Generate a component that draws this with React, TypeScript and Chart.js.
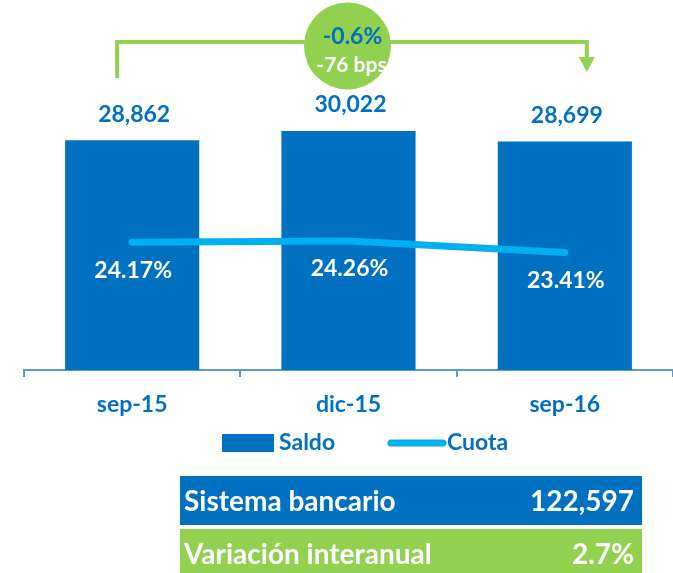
import React, { useEffect, useRef } from "react";
import { Chart, registerables } from "chart.js";

Chart.register(...registerables);

const categories = ["sep-15", "dic-15", "sep-16"];
const saldo = [28862, 30022, 28699];
const cuota = [24.17, 24.26, 23.41];
const seriesNames = ["Saldo", "Cuota"];
const changePct = "-0.6%";
const changeBps = "-76 bps";
const summaryLabels = ["Sistema bancario", "Variación interanual"];
const summaryValues = ["122,597", "2.7%"];

const BLUE = "#0070C0";
const CYAN = "#00B0F0";
const GREEN = "#92D050";
const AXIS = "#5B9BD5";
const FONT = "Lato, 'Open Sans', sans-serif";

const overlayPlugin = {
  id: "overlay",
  afterDraw(chart: any) {
    const ctx = chart.ctx;
    const xs = chart.scales.x;
    ctx.save();

    // bar value labels
    ctx.textAlign = "center";
    ctx.textBaseline = "middle";
    ctx.font = `bold 23px ${FONT}`;
    ctx.fillStyle = BLUE;
    chart.getDatasetMeta(1).data.forEach((el: any, i: number) => {
      ctx.fillText(saldo[i].toLocaleString("en-US"), el.x + 2, el.y - 26);
    });

    // line labels
    ctx.fillStyle = "#FFFFFF";
    chart.getDatasetMeta(0).data.forEach((el: any, i: number) => {
      ctx.fillText(cuota[i].toFixed(2) + "%", el.x + 1, el.y + 28);
    });

    // bracket arrow
    const xa = xs.getPixelForValue(0) - 15;
    const xb = xs.getPixelForValue(2) + 22;
    ctx.strokeStyle = GREEN;
    ctx.lineWidth = 4;
    ctx.lineCap = "butt";
    ctx.lineJoin = "miter";
    ctx.beginPath();
    ctx.moveTo(xa, 78);
    ctx.lineTo(xa, 42);
    ctx.lineTo(xb, 42);
    ctx.lineTo(xb, 58);
    ctx.stroke();
    ctx.fillStyle = GREEN;
    ctx.beginPath();
    ctx.moveTo(xb - 8, 57);
    ctx.lineTo(xb + 8, 57);
    ctx.lineTo(xb, 72);
    ctx.closePath();
    ctx.fill();

    // circle
    const cx = xs.getPixelForValue(1) - 1;
    ctx.beginPath();
    ctx.arc(cx, 46, 43.5, 0, Math.PI * 2);
    ctx.fill();
    ctx.fillStyle = BLUE;
    ctx.font = `bold 23px ${FONT}`;
    ctx.fillText(changePct, cx + 5, 37);
    ctx.fillStyle = "#FFFFFF";
    ctx.font = `bold 21px ${FONT}`;
    ctx.fillText(changeBps, cx + 4, 65);

    // legend
    const ly = 443;
    ctx.fillStyle = BLUE;
    ctx.fillRect(222, 434, 52, 18);
    ctx.textAlign = "left";
    ctx.font = `bold 23px ${FONT}`;
    ctx.fillText(seriesNames[0], 279, ly);
    ctx.strokeStyle = CYAN;
    ctx.lineWidth = 7;
    ctx.lineCap = "round";
    ctx.beginPath();
    ctx.moveTo(391, ly);
    ctx.lineTo(443, ly);
    ctx.stroke();
    ctx.fillStyle = BLUE;
    ctx.fillText(seriesNames[1], 447, ly);

    // summary boxes
    const bx = 180, bw = 462;
    const rows = [
      { y: 476, h: 49, color: BLUE },
      { y: 529, h: 44, color: GREEN },
    ];
    rows.forEach((r, i) => {
      ctx.fillStyle = r.color;
      ctx.fillRect(bx, r.y, bw, r.h);
      ctx.fillStyle = "#FFFFFF";
      ctx.font = `bold 28px ${FONT}`;
      ctx.textAlign = "left";
      ctx.fillText(summaryLabels[i], 184, i === 0 ? 502 : 555);
      ctx.textAlign = "right";
      ctx.fillText(summaryValues[i], 634, i === 0 ? 502 : 555);
    });

    ctx.restore();
  },
};

export default function App() {
  const ref = useRef<HTMLCanvasElement | null>(null);
  useEffect(() => {
    if (!ref.current) return;
    const chart = new Chart(ref.current, {
      type: "bar",
      data: {
        labels: categories,
        datasets: [
          {
            type: "line",
            label: seriesNames[1],
            data: cuota,
            yAxisID: "y1",
            borderColor: CYAN,
            backgroundColor: CYAN,
            borderWidth: 7,
            borderCapStyle: "round",
            borderJoinStyle: "round",
            pointRadius: 0,
            tension: 0,
            order: 0,
          } as any,
          {
            type: "bar",
            label: seriesNames[0],
            data: saldo,
            yAxisID: "y",
            backgroundColor: BLUE,
            categoryPercentage: 1,
            barPercentage: 0.62,
            order: 1,
          },
        ],
      },
      options: {
        responsive: false,
        animation: false,
        devicePixelRatio: 1,
        layout: { padding: { left: 24, right: 0, top: 30, bottom: 0 } },
        plugins: { legend: { display: false }, tooltip: { enabled: false } },
        scales: {
          x: {
            offset: true,
            grid: {
              offset: true,
              drawOnChartArea: false,
              drawTicks: true,
              tickLength: 7,
              color: AXIS,
              lineWidth: 2,
            },
            border: { display: true, color: AXIS, width: 2 },
            ticks: {
              color: BLUE,
              padding: 14,
              font: { family: FONT, size: 23, weight: "bold" },
            },
            afterFit: (s: any) => {
              s.height = 203;
            },
          },
          y: { display: false, min: 0, max: 42700 },
          y1: { display: false, min: 14.7, max: 39.9 },
        },
      },
      plugins: [overlayPlugin],
    } as any);
    return () => chart.destroy();
  }, []);
  return (
    <div style={{ position: "absolute", left: 0, top: 0, width: 673, height: 573, background: "#fff" }}>
      <canvas ref={ref} width={673} height={573} style={{ width: 673, height: 573, display: "block" }} />
    </div>
  );
}
